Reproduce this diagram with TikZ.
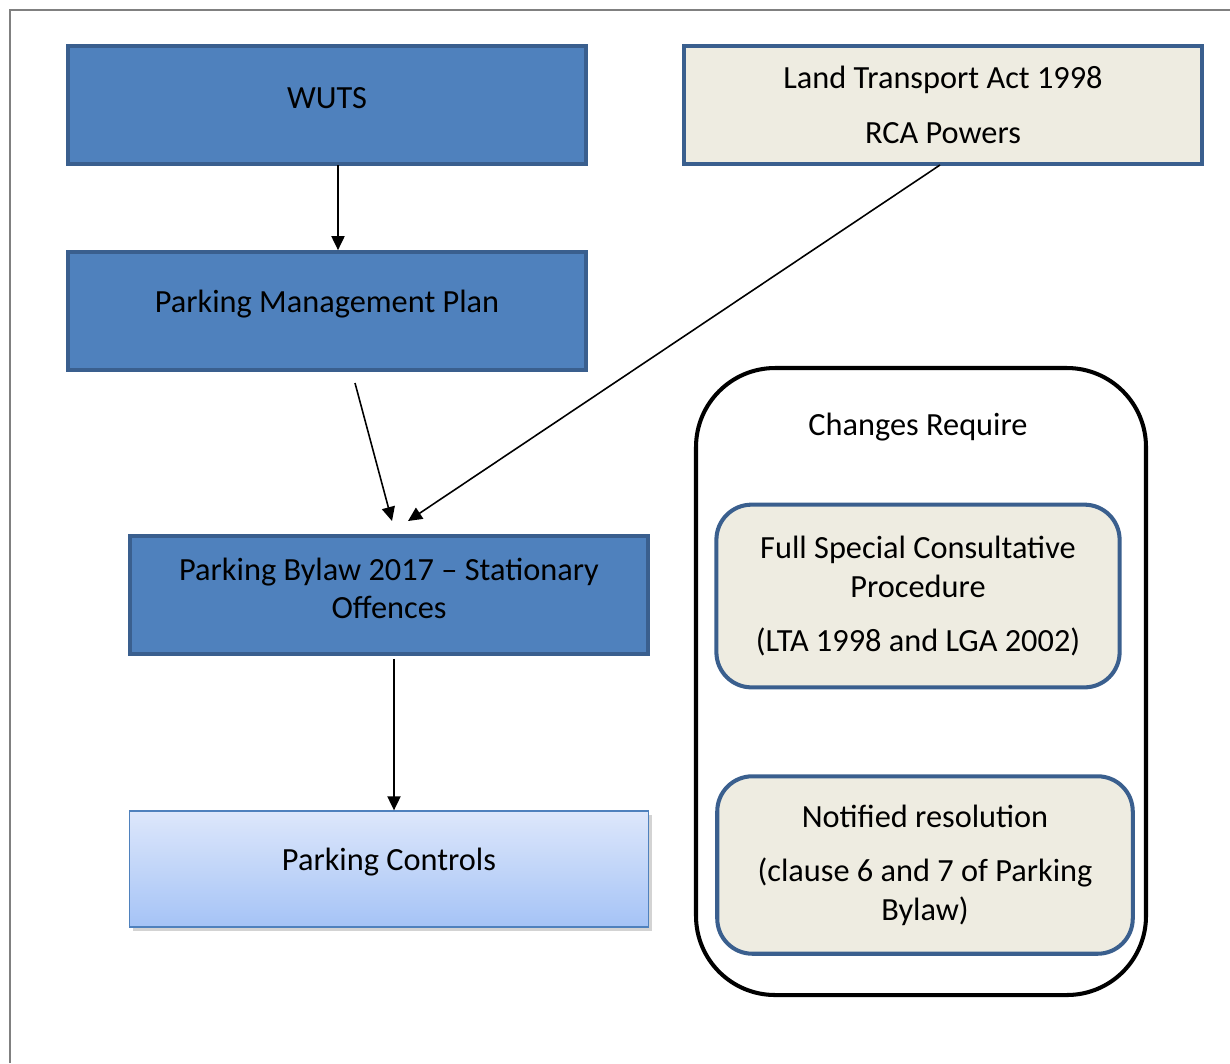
\documentclass[tikz,border=0pt]{standalone}
\usepackage{fontspec}
\setmainfont{Carlito}
\usetikzlibrary{arrows.meta,shadows}
\definecolor{boxblue}{HTML}{4F81BD}
\definecolor{edgeblue}{HTML}{3A5F8E}
\definecolor{paper}{HTML}{EEECE1}
\definecolor{ctrltop}{HTML}{DDE7FB}
\definecolor{ctrlbot}{HTML}{A5C3F6}
\tikzset{
  bluebox/.style={draw=edgeblue,fill=boxblue,line width=2.3pt,minimum width=295pt,minimum height=67pt},
  raised/.style={label={[yshift=3.8pt,align=center]center:#1}},
  paperbox/.style={draw=edgeblue,fill=paper,line width=2.3pt,minimum width=295pt,minimum height=67pt,align=center},
  softbox/.style={draw=edgeblue,fill=paper,line width=2.3pt,rounded corners=20pt,align=center},
  flow/.style={-{Triangle[length=8pt,width=7.5pt]},line width=0.9pt}
}
\begin{document}
\begin{tikzpicture}[x=0.02cm,y=-0.02cm,font=\fontsize{18.4}{22}\selectfont]
\useasboundingbox (0,0) rectangle (1230,1063);
\draw[gray,line width=1.2pt] (10,1063) -- (10,10) -- (1230,10);
% left column
\node[bluebox,raised={WUTS}] (wuts) at (327,105) {};
\node[bluebox,raised={Parking Management Plan}] (pmp) at (327,311) {};
\node[bluebox,raised={Parking Bylaw 2017 -- Stationary\\Offences}] (bylaw) at (389,595) {};
\node[draw=boxblue,line width=0.8pt,top color=ctrltop,bottom color=ctrlbot,
  minimum width=295.5pt,minimum height=66pt,raised={Parking Controls},
  drop shadow={opacity=0.35,shadow xshift=2pt,shadow yshift=-2.5pt}] (ctrl) at (389,869) {};
% right side
\node[paperbox] (lta) at (943,105) {Land Transport Act 1998\\[9pt]RCA Powers};
\draw[line width=2.3pt,rounded corners=45pt] (696,368) rectangle (1146,995);
\node (chg) at (918,427) {Changes Require};
\node[softbox,minimum width=229.5pt,minimum height=104pt] (scp) at (918,596)
  {Full Special Consultative\\Procedure\\[9pt](LTA 1998 and LGA 2002)};
\node[softbox,minimum width=236.5pt,minimum height=101pt] (res) at (925,865)
  {Notified resolution\\[9pt](clause 6 and 7 of Parking\\Bylaw)};
% arrows
\coordinate (pmpout) at (355,383);
\coordinate (tipa) at (392,521);
\coordinate (tipb) at (408,521);
\coordinate (ltaout) at (940,165);
\draw[flow] (338,165) -- (pmp.north -| 338,0);
\draw[flow] (pmpout) -- (tipa);
\draw[flow] (ltaout) -- (tipb);
\draw[flow] (bylaw.south -| 394,0) ++(0,3) -- (ctrl.north -| 394,0);
\end{tikzpicture}
\end{document}
